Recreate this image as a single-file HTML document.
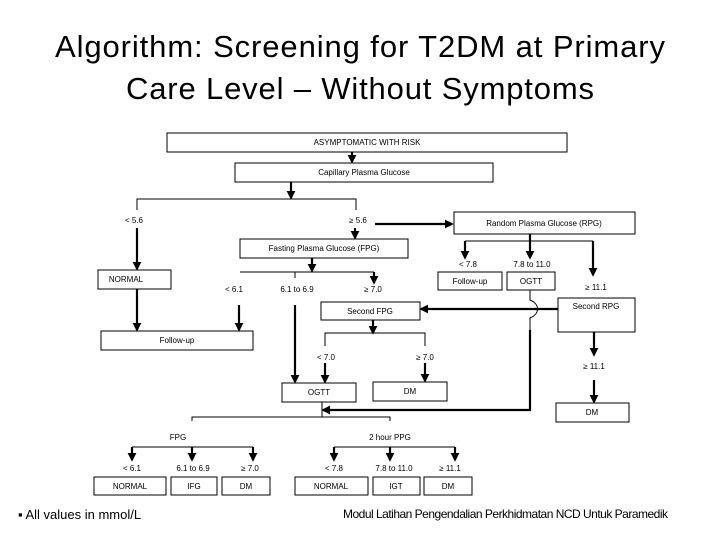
<!DOCTYPE html>
<html><head><meta charset="utf-8"><style>
html,body{margin:0;padding:0;background:#fff;}
svg{display:block;}
text{font-family:"Liberation Sans",sans-serif;fill:#000;}
.t{font-size:8px;text-anchor:middle;}
</style></head><body>
<svg width="720" height="540" viewBox="0 0 720 540">
<defs>
<marker id="a" markerWidth="4" markerHeight="4" refX="3.2" refY="2" orient="auto" markerUnits="strokeWidth"><path d="M0,0 L4,2 L0,4 z" fill="#000"/></marker>
</defs>
<text x="360" y="57" font-size="31" text-anchor="middle" textLength="610" fill="#111">Algorithm: Screening for T2DM at Primary</text>
<text x="360" y="99" font-size="31" text-anchor="middle" textLength="468" fill="#111">Care Level – Without Symptoms</text>

<g fill="none" stroke="#000" stroke-width="1">
<rect x="167" y="133" width="400" height="19"/>
<rect x="235" y="163" width="258" height="19"/>
<rect x="454" y="212" width="181" height="22"/>
<rect x="240" y="239" width="168" height="19"/>
<rect x="98" y="270" width="73" height="19"/>
<rect x="438" y="272" width="64" height="18"/>
<rect x="507" y="272" width="48" height="18"/>
<rect x="558" y="298" width="77" height="34"/>
<rect x="321" y="302" width="99" height="18"/>
<rect x="101" y="331" width="152" height="19"/>
<rect x="282" y="383" width="74" height="19"/>
<rect x="373" y="382" width="74" height="19"/>
<rect x="556" y="403" width="73" height="19"/>
<rect x="94" y="477" width="72" height="18"/>
<rect x="171" y="477" width="46" height="18"/>
<rect x="222" y="477" width="48" height="18"/>
<rect x="295" y="477" width="73" height="18"/>
<rect x="373" y="477" width="47" height="18"/>
<rect x="424" y="477" width="48" height="18"/>
<!-- thin lines -->
<path d="M137 210 V199 H356 V210"/>
<path d="M240 272 H374"/>
<path d="M295 272 V278"/>
<path d="M465 241 H593"/>
<path d="M325 346 V333 H425 V346"/>
<path d="M322 402 V417"/>
<path d="M192 421 V417 H390 V421"/>
<path d="M132 447 H253"/>
<path d="M334 447 H455"/>
<path d="M530 290 V300 C540 304 540 314 530 318 V330"/>
</g>
<g fill="none" stroke="#000" stroke-width="2.2" marker-end="url(#a)">
<path d="M352 152 V162"/>
<path d="M291 182 V198"/>
<path d="M375 224 H452"/>
<path d="M355 228 V238"/>
<path d="M137 228 V269"/>
<path d="M312 258 V271"/>
<path d="M374 272 V283"/>
<path d="M530 234 V258"/>
<path d="M465 241 V258"/>
<path d="M593 241 V275"/>
<path d="M558 309 H421"/>
<path d="M137 289 V330"/>
<path d="M239 305 V330"/>
<path d="M295 305 V382"/>
<path d="M373 320 V333"/>
<path d="M325 363 V382"/>
<path d="M425 363 V381"/>
<path d="M594 332 V355"/>
<path d="M594 380 V402"/>
<path d="M530 330 V410 H323"/>
<path d="M132 447 V460"/>
<path d="M192 447 V460"/>
<path d="M253 447 V460"/>
<path d="M334 447 V460"/>
<path d="M390 447 V460"/>
<path d="M455 447 V460"/>
</g>

<g class="t">
<text x="367" y="145" class="t">ASYMPTOMATIC WITH RISK</text>
<text x="364" y="175" class="t">Capillary Plasma Glucose</text>
<text x="134" y="223" class="t">&lt; 5.6</text>
<text x="358" y="223" class="t">&#8805; 5.6</text>
<text x="544" y="226" class="t">Random Plasma Glucose (RPG)</text>
<text x="324" y="251" class="t">Fasting Plasma Glucose (FPG)</text>
<text x="126" y="282" class="t">NORMAL</text>
<text x="234" y="292" class="t">&lt; 6.1</text>
<text x="297" y="292" class="t">6.1  to 6.9</text>
<text x="373" y="292" class="t">&#8805; 7.0</text>
<text x="468" y="267" class="t">&lt; 7.8</text>
<text x="532" y="267" class="t">7.8 to 11.0</text>
<text x="470" y="284" class="t">Follow-up</text>
<text x="531" y="284" class="t">OGTT</text>
<text x="596" y="290" class="t">&#8805; 11.1</text>
<text x="596" y="309" class="t">Second RPG</text>
<text x="370" y="314" class="t">Second  FPG</text>
<text x="177" y="343" class="t">Follow-up</text>
<text x="326" y="360" class="t">&lt; 7.0</text>
<text x="425" y="360" class="t">&#8805; 7.0</text>
<text x="594" y="369" class="t">&#8805; 11.1</text>
<text x="319" y="395" class="t">OGTT</text>
<text x="410" y="394" class="t">DM</text>
<text x="592" y="415" class="t">DM</text>
<text x="178" y="440" class="t">FPG</text>
<text x="390" y="440" class="t">2 hour PPG</text>
<text x="132" y="471" class="t">&lt; 6.1</text>
<text x="193" y="471" class="t">6.1  to 6.9</text>
<text x="250" y="471" class="t">&#8805; 7.0</text>
<text x="334" y="471" class="t">&lt; 7.8</text>
<text x="394" y="471" class="t">7.8 to 11.0</text>
<text x="450" y="471" class="t">&#8805; 11.1</text>
<text x="130" y="489" class="t">NORMAL</text>
<text x="194" y="489" class="t">IFG</text>
<text x="246" y="489" class="t">DM</text>
<text x="331" y="489" class="t">NORMAL</text>
<text x="396" y="489" class="t">IGT</text>
<text x="448" y="489" class="t">DM</text>
</g>
<text x="18" y="519" font-size="13" fill="#222">▪ All values in mmol/L</text>
<text x="343" y="518" font-size="12" textLength="325" fill="#222">Modul Latihan Pengendalian Perkhidmatan NCD Untuk Paramedik</text>
</svg>
</body></html>
